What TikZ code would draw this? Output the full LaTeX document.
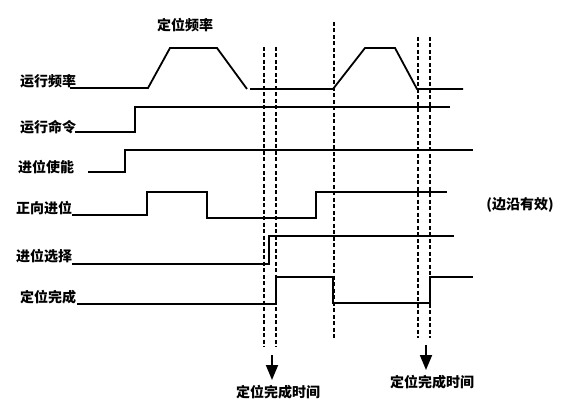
\documentclass[tikz,border=0pt]{standalone}
\usepackage{fontspec}
\newfontfamily\cjk{Noto Sans CJK SC}
\usetikzlibrary{arrows.meta}
\begin{document}
\begin{tikzpicture}[x=1pt,y=-1pt,
  sig/.style={line width=1.8pt},
  guide/.style={line width=1.3pt,dash pattern=on 4pt off 2.5pt},
  lbl/.style={font=\cjk\bfseries\fontsize{14}{14}\selectfont, inner sep=0pt},
  arr/.style={line width=1.8pt,-{Triangle[length=15pt,width=12pt]}}]
\useasboundingbox (0,0) rectangle (571,412);
% labels
\node[lbl] (title) at (185,25) {定位频率};
\node[lbl,anchor=west] (l1) at (20,81) {运行频率};
\node[lbl,anchor=west] (l2) at (20,127) {运行命令};
\node[lbl,anchor=west] (l3) at (18,167) {进位使能};
\node[lbl,anchor=west] (l4) at (16,208) {正向进位};
\node[lbl,anchor=west] (l5) at (16,256) {进位选择};
\node[lbl,anchor=west] (l6) at (20,297) {定位完成};
\node[lbl] (edge) at (520,205) {(边沿有效)};
\node[lbl] (t1) at (278,392) {定位完成时间};
\node[lbl] (t2) at (432,382) {定位完成时间};
% guide lines
\draw[guide] (264,47) -- (264,347);
\draw[guide] (276,47) -- (276,347);
\draw[guide] (334,22) -- (334,338);
\draw[guide] (418,37) -- (418,338);
\draw[guide] (430,37) -- (430,338);
% signals
\draw[sig] (70,88) -- (148,88) -- (170,48) -- (217,48) -- (247,89);
\draw[sig] (250,89) -- (333,89) -- (365,48) -- (395,48) -- (417,89) -- (463,89);
\draw[sig] (75,132) -- (135,132) -- (135,107) -- (450,107);
\draw[sig] (88,172) -- (125,172) -- (125,150) -- (473,150);
\draw[sig] (72,215) -- (147,215) -- (147,192) -- (207,192) -- (207,218) -- (316,218) -- (316,192) -- (447,192);
\draw[sig] (72,264) -- (269,264) -- (269,236) -- (454,236);
\draw[sig] (77,304) -- (276,304) -- (276,277) -- (333,277) -- (333,303) -- (430,303) -- (430,277) -- (473,277);
% arrows
\coordinate (a1s) at (272,355);
\coordinate (a1e) at (272,380);
\coordinate (a2s) at (426,345);
\coordinate (a2e) at (426,370);
\draw[arr] (a1s) -- (a1e);
\draw[arr] (a2s) -- (a2e);
\end{tikzpicture}
\end{document}
